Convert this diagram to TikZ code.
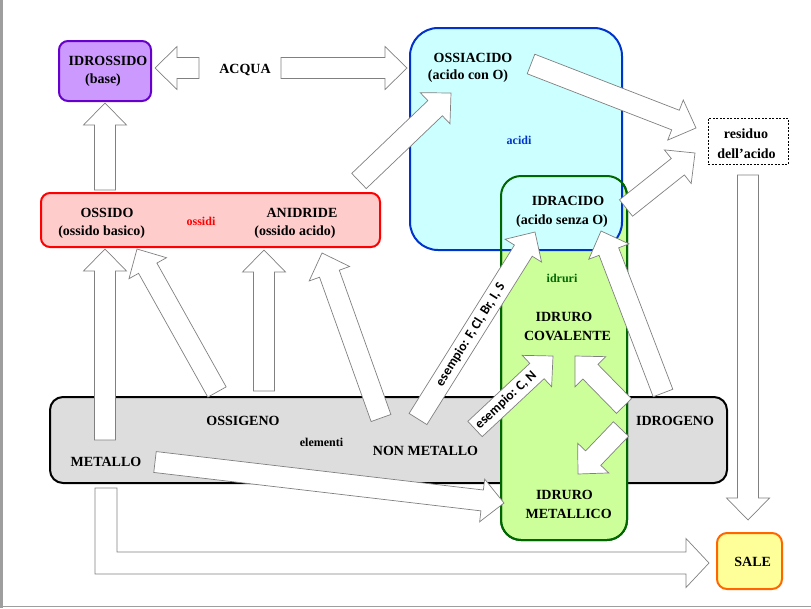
\documentclass[tikz,border=0pt]{standalone}
\usepackage{fontspec}
\setmainfont{Liberation Serif}
\newfontfamily\calibri{Carlito}
\usetikzlibrary{calc}

\definecolor{basefill}{HTML}{CC99FF}
\definecolor{basepurple}{HTML}{6600CC}
\definecolor{ossidofill}{HTML}{FFCCCC}
\definecolor{acidofill}{HTML}{CCFFFF}
\definecolor{acidoblue}{HTML}{0033CC}
\definecolor{idrurofill}{HTML}{CCFF99}
\definecolor{idrurogreen}{HTML}{006600}
\definecolor{elemgray}{HTML}{DDDDDD}
\definecolor{salefill}{HTML}{FFFF99}
\definecolor{saleorange}{HTML}{FF6600}

% block arrow from tail #2 to tip #3, optional label #1 on the shaft
\newcommand{\fatarrow}[3][]{%
  \coordinate (fa-base) at ($(#3)!22pt!(#2)$);
  \draw[fat] ($(#2)!10.5pt!90:(#3)$) -- ($(fa-base)!10.5pt!90:(#3)$) -- ($(fa-base)!21.5pt!90:(#3)$) -- (#3)
    -- ($(fa-base)!21.5pt!-90:(#3)$) -- ($(fa-base)!10.5pt!-90:(#3)$) -- ($(#2)!10.5pt!-90:(#3)$) -- cycle;
  \if\relax\detokenize{#1}\relax\else
    \path (#2) -- (fa-base) node[midway, sloped, tag] (#2-tag) {#1};
  \fi}

\begin{document}
\begin{tikzpicture}[x=1pt, y=-1pt,
    box/.style={draw, line width=2pt, outer sep=0pt, inner sep=0pt},
    fat/.style={draw=black!50, fill=white, line width=0.7pt},
    lab/.style={font=\fontsize{14}{16}\selectfont\bfseries, inner sep=0pt},
    small/.style={font=\fontsize{12}{14}\selectfont\bfseries, inner sep=0pt},
    tag/.style={font=\calibri\fontsize{13.5}{15}\selectfont\bfseries, inner sep=0pt}]
\useasboundingbox (0,0) rectangle (811,608);
\fill[black!38] (0,0) rectangle (3,608);
\draw[black!38, line width=1.2pt] (0,606.5) -- (811,606.5);

\node (elementi) at (388.5,440)[box, draw=black, fill=elemgray, rounded corners=13pt, minimum width=677, minimum height=86]{};
\node (idruri) at (564,358)[box, draw=idrurogreen, fill=idrurofill, rounded corners=20pt, minimum width=126, minimum height=364]{};
\node (acidi) at (516,139)[box, draw=acidoblue, fill=acidofill, rounded corners=28pt, minimum width=212, minimum height=222]{};
\draw[idrurogreen, line width=2pt, rounded corners=20pt] (idruri.south west) rectangle (idruri.north east);
\node (ossidi) at (210.5,220)[box, draw=red, fill=ossidofill, rounded corners=9pt, minimum width=339, minimum height=54]{};
\node (idrossido) at (105,71)[box, draw=basepurple, fill=basefill, rounded corners=9pt, minimum width=92, minimum height=60]{};
\node (sale) at (749.5,561)[box, draw=saleorange, fill=salefill, rounded corners=10pt, minimum width=65, minimum height=56]{};
\node (residuo) at (748,141)[draw, dash pattern=on 2pt off 1.5pt, line width=0.6pt, fill=white, minimum width=80, minimum height=46, inner sep=0pt]{};

\coordinate (ossido-up) at (105,190);   \coordinate (idrossido-in) at (105,103);
\coordinate (acqua-l) at (199,68);      \coordinate (idrossido-r) at (155,68);
\coordinate (acqua-r) at (281,68);      \coordinate (ossiacido-l) at (407,68);
\coordinate (anidride-up) at (359,181); \coordinate (ossiacido-in) at (451,93);
\coordinate (ossiacido-out) at (531,64); \coordinate (residuo-a) at (696,128);
\coordinate (idracido-out) at (626,208); \coordinate (residuo-b) at (695,153);
\coordinate (residuo-out) at (748,175); \coordinate (sale-top) at (748,520);
\coordinate (metallo-up) at (105,440);  \coordinate (ossido-a) at (105,249);
\coordinate (ossigeno-l) at (217,392);  \coordinate (ossido-b) at (137,249);
\coordinate (ossigeno-r) at (264,391);  \coordinate (anidride-a) at (264,250);
\coordinate (nonmet-l) at (381,418);    \coordinate (anidride-b) at (322,253);
\coordinate (nonmet-r) at (418,419);    \coordinate (idracido-a) at (535,232);
\coordinate (nonmet-c) at (475,429);    \coordinate (covalente-a) at (553,356);
\coordinate (idrogeno-a) at (624,406);  \coordinate (covalente-b) at (575,356);
\coordinate (idrogeno-b) at (663,393);  \coordinate (idracido-b) at (601,231);
\coordinate (idrogeno-c) at (621,429);  \coordinate (metallico-a) at (578,474);
\coordinate (metallo-r) at (155,462);   \coordinate (metallico-b) at (504,503);
\coordinate (metallo-down) at (106,488); \coordinate (sale-in) at (709,563);

\fatarrow{ossido-up}{idrossido-in}
\fatarrow{acqua-l}{idrossido-r}
\fatarrow{acqua-r}{ossiacido-l}
\fatarrow{anidride-up}{ossiacido-in}
\fatarrow{ossiacido-out}{residuo-a}
\fatarrow{idracido-out}{residuo-b}
\fatarrow{residuo-out}{sale-top}
\fatarrow{metallo-up}{ossido-a}
\fatarrow{ossigeno-l}{ossido-b}
\fatarrow{ossigeno-r}{anidride-a}
\fatarrow{nonmet-l}{anidride-b}
\fatarrow[esempio: F, Cl, Br, I, S]{nonmet-r}{idracido-a}
\fatarrow[esempio: C, N]{nonmet-c}{covalente-a}
\fatarrow{idrogeno-a}{covalente-b}
\fatarrow{idrogeno-b}{idracido-b}
\fatarrow{idrogeno-c}{metallico-a}
\fatarrow{metallo-r}{metallico-b}
\draw[fat] ($(metallo-down)+(-11,0)$) |- ($(sale-in)+(-23,11)$) -- ++(0,13.5) -- (sale-in) -- ++(-23,-24.5)
    -- ++(0,13.5) -| ($(metallo-down)+(11,0)$) -- cycle;

\node (t-idrossido) at (108,61)[lab]{IDROSSIDO};
\node (t-base) at (103,80)[lab]{(base)};
\node (t-acqua) at (245,70)[lab]{ACQUA};
\node (t-ossiacido) at (473,57.5)[lab]{OSSIACIDO};
\node (t-acidocon) at (468,76.5)[lab]{(acido con O)};
\node (t-acidi) at (519,140)[small, text=acidoblue]{acidi};
\node (t-residuo) at (746,133.5)[lab]{residuo};
\node (t-dellacido) at (746.5,153.5)[lab]{dell’acido};
\node (t-ossido) at (107,213)[lab]{OSSIDO};
\node (t-basico) at (101.7,232)[lab]{(ossido basico)};
\node (t-ossidi) at (201,221)[small, text=red]{ossidi};
\node (t-anidride) at (302,213)[lab]{ANIDRIDE};
\node (t-acido) at (295,232)[lab]{(ossido acido)};
\node (t-idracido) at (568,201)[lab]{IDRACIDO};
\node (t-senza) at (562,221)[lab]{(acido senza O)};
\node (t-idruri) at (562,278)[small, text=idrurogreen]{idruri};
\node (t-idruro1) at (564,317)[lab]{IDRURO};
\node (t-covalente) at (567.5,336)[lab]{COVALENTE};
\node (t-idrogeno) at (675,420.5)[lab]{IDROGENO};
\node (t-ossigeno) at (243,420.5)[lab]{OSSIGENO};
\node (t-elementi) at (321.5,442)[small]{elementi};
\node (t-nonmetallo) at (425.5,450.5)[lab]{NON METALLO};
\node (t-metallo) at (106,462)[lab]{METALLO};
\node (t-idruro2) at (564.4,495)[lab]{IDRURO};
\node (t-metallico) at (568.7,513.5)[lab]{METALLICO};
\node (t-sale) at (752.7,562)[lab]{SALE};

\end{tikzpicture}
\end{document}
